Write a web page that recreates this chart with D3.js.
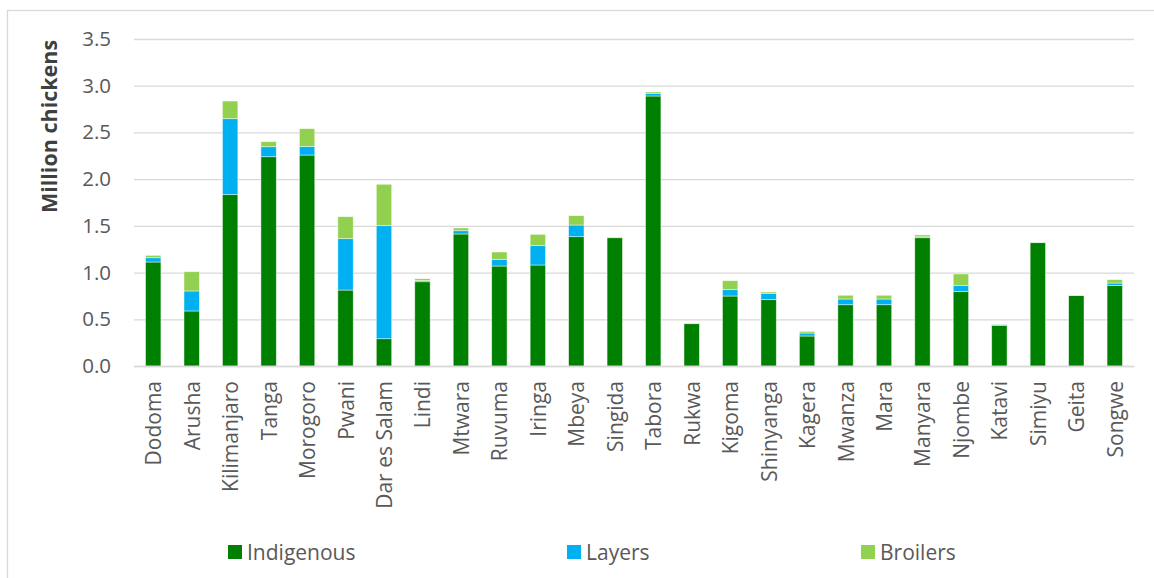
<!DOCTYPE html>
<html>
<head>
<meta charset="utf-8">
<script src="https://cdn.jsdelivr.net/npm/d3@7/dist/d3.min.js"></script>
<style>
  html, body { margin: 0; padding: 0; background: #fff; }
  svg { display: block; font-family: "Open Sans", sans-serif; }
</style>
</head>
<body>
<svg id="chart" width="1154" height="578"></svg>
<script>
// Chicken population by region (million birds)
const regions = ["Dodoma", "Arusha", "Kilimanjaro", "Tanga", "Morogoro", "Pwani", "Dar es Salam",
  "Lindi", "Mtwara", "Ruvuma", "Iringa", "Mbeya", "Singida", "Tabora", "Rukwa", "Kigoma",
  "Shinyanga", "Kagera", "Mwanza", "Mara", "Manyara", "Njombe", "Katavi", "Simiyu", "Geita", "Songwe"];

const indigenous = [1.113, 0.589, 1.834, 2.240, 2.258, 0.813, 0.292, 0.902, 1.413, 1.070, 1.081, 1.384, 1.373,
  2.890, 0.453, 0.749, 0.710, 0.321, 0.656, 0.656, 1.373, 0.796, 0.435, 1.320, 0.753, 0.863];
const layers = [0.046, 0.214, 0.813, 0.107, 0.093, 0.550, 1.210, 0.012, 0.035, 0.072, 0.207, 0.125, 0.004,
  0.029, 0.004, 0.068, 0.068, 0.032, 0.061, 0.061, 0.010, 0.064, 0.008, 0.004, 0.004, 0.025];
const broilers = [0.025, 0.206, 0.189, 0.054, 0.189, 0.235, 0.443, 0.020, 0.029, 0.078, 0.121, 0.100, 0.004,
  0.014, 0.003, 0.096, 0.014, 0.018, 0.040, 0.040, 0.020, 0.125, 0.003, 0.003, 0.003, 0.036];

const seriesNames = ["Indigenous", "Layers", "Broilers"];
const seriesColors = ["#008000", "#00B0F0", "#92D050"];
const yTicks = [0, 0.5, 1.0, 1.5, 2.0, 2.5, 3.0, 3.5];

const svg = d3.select("#chart");
const plot = { left: 134, right: 1134, top: 39, bottom: 366 };

// outer frame
svg.append("rect")
  .attr("x", 7.5).attr("y", 10.5)
  .attr("width", 1160).attr("height", 600)
  .attr("fill", "#fff").attr("stroke", "#d9d9d9").attr("stroke-width", 1.3);

const x = d3.scaleBand().domain(regions).range([plot.left, plot.right]).paddingInner(0.6).paddingOuter(0.3);
const y = d3.scaleLinear().domain([0, 3.5]).range([plot.bottom, plot.top]);

// gridlines and value axis
const yAxis = svg.append("g")
  .attr("transform", `translate(${plot.left},0)`)
  .call(d3.axisLeft(y).tickValues(yTicks).tickFormat(d3.format(".1f"))
    .tickSize(-(plot.right - plot.left)).tickPadding(23));
yAxis.select(".domain").remove();
yAxis.selectAll(".tick line").attr("stroke", "#d9d9d9").attr("stroke-width", 1.3);
yAxis.selectAll(".tick text").attr("fill", "#595959").attr("font-size", 20.5)
  .attr("font-family", "'Open Sans', sans-serif");

// stacked bars
const rows = regions.map((r, i) => ({ region: r, Indigenous: indigenous[i], Layers: layers[i], Broilers: broilers[i] }));
const stacked = d3.stack().keys(seriesNames)(rows);

svg.append("g").selectAll("g")
  .data(stacked)
  .join("g")
  .attr("fill", (d, i) => seriesColors[i])
  .selectAll("rect")
  .data(d => d)
  .join("rect")
  .attr("x", d => x(d.data.region))
  .attr("width", x.bandwidth())
  .attr("y", d => y(d[1]))
  .attr("height", d => Math.max(0, y(d[0]) - y(d[1])))
  .attr("stroke", "#ffffff")
  .attr("stroke-opacity", 0.6)
  .attr("stroke-width", 0.75);

// category axis
const xAxis = svg.append("g")
  .attr("transform", `translate(0,${plot.bottom})`)
  .call(d3.axisBottom(x).tickSize(0).tickPadding(0));
xAxis.select(".domain").attr("stroke", "#d9d9d9").attr("stroke-width", 1.3);
xAxis.selectAll(".tick text")
  .attr("fill", "#595959").attr("font-size", 21)
  .attr("font-family", "'Open Sans', sans-serif")
  .attr("text-anchor", "end")
  .attr("dy", null)
  .attr("transform", "translate(8,15) rotate(-90)")
  .attr("x", 0).attr("y", 0);

// value axis title
svg.append("text")
  .attr("transform", `translate(57,${(plot.top + plot.bottom) / 2 - 76}) rotate(-90)`)
  .attr("text-anchor", "middle")
  .attr("font-size", 21.5).attr("font-weight", "bold").attr("fill", "#404040")
  .text("Million chickens");

// legend
const legendX = [228, 567, 861];
const legend = svg.append("g").selectAll("g")
  .data(seriesNames)
  .join("g")
  .attr("transform", (d, i) => `translate(${legendX[i]},545)`);
legend.append("rect").attr("width", 14).attr("height", 14).attr("fill", (d, i) => seriesColors[i]);
legend.append("text").attr("x", 19).attr("y", 15)
  .attr("font-size", 21).attr("fill", "#595959").text(d => d);
</script>
</body>
</html>
